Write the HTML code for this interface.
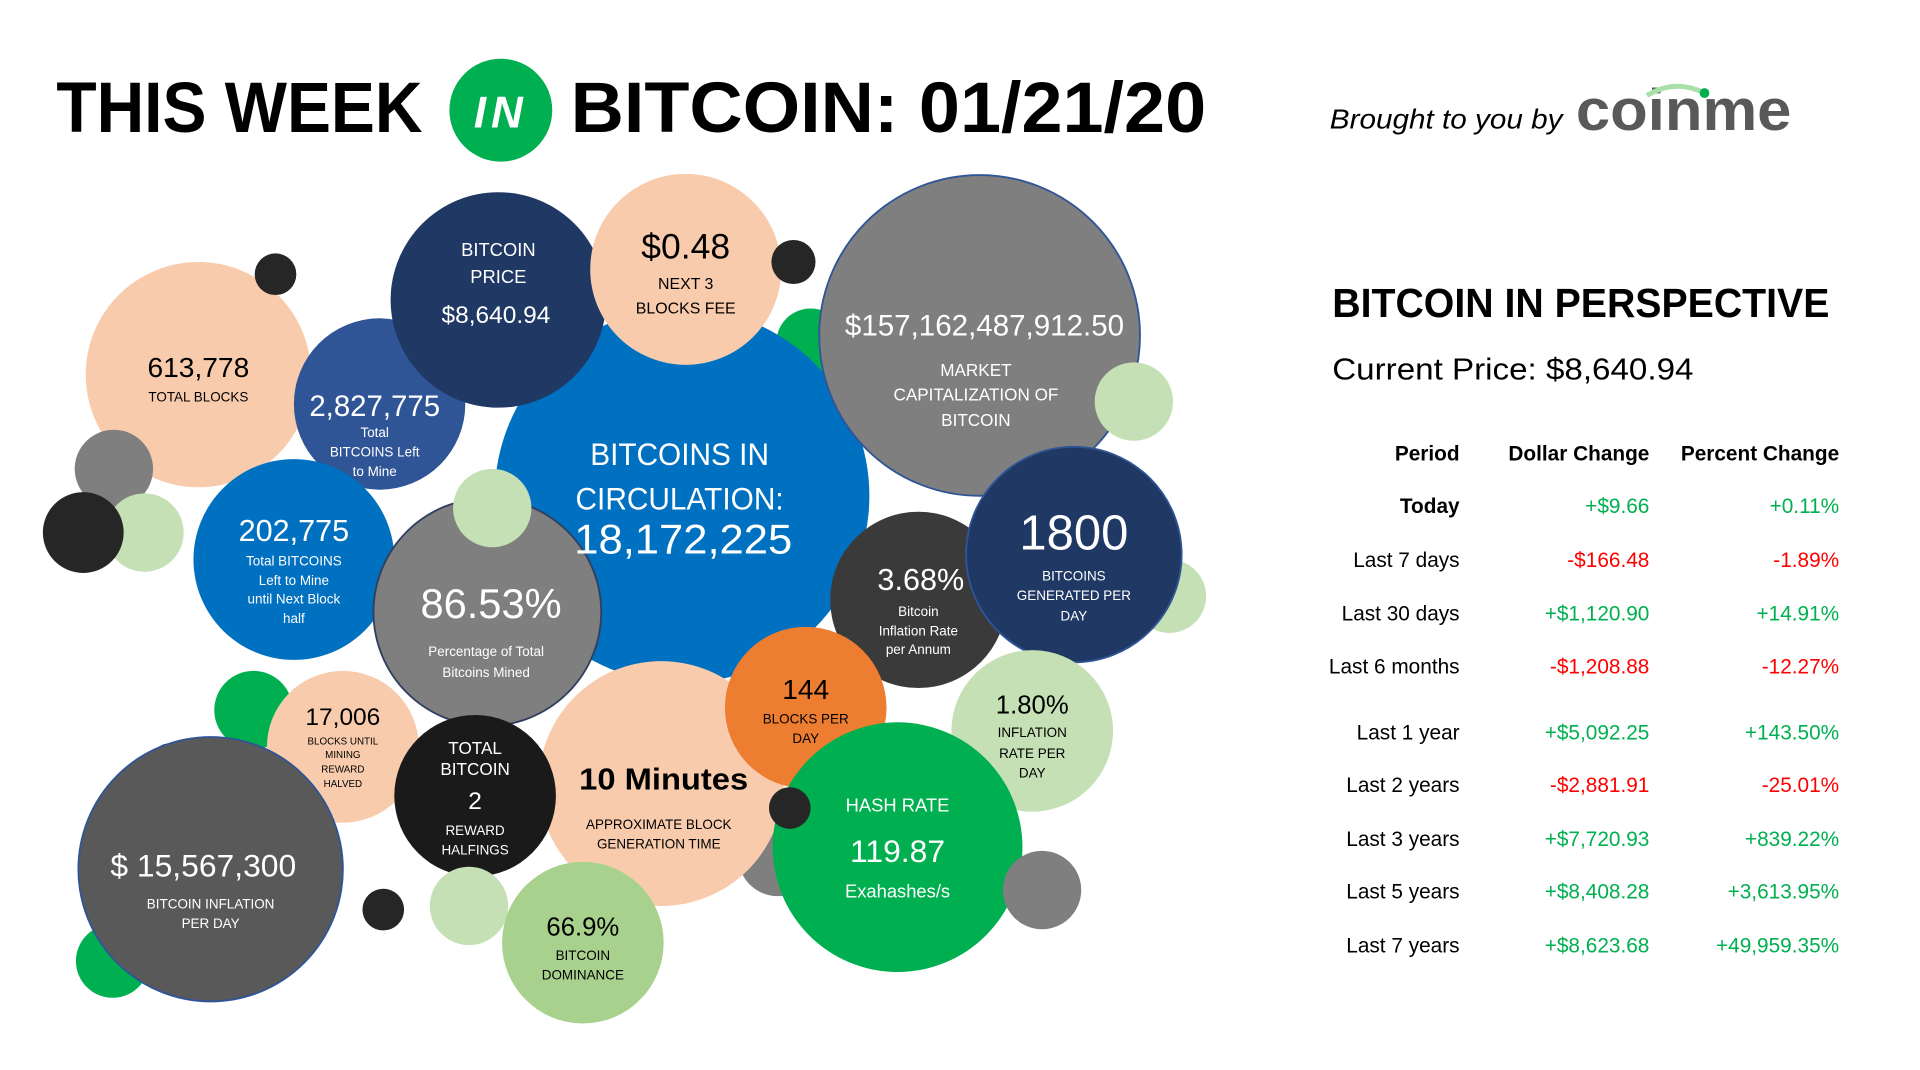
<!DOCTYPE html>
<html><head><meta charset="utf-8"><style>
html,body{margin:0;padding:0;background:#fff;width:1920px;height:1070px;overflow:hidden}
svg{display:block}
text{font-family:"Liberation Sans Narrow","Liberation Sans",sans-serif}
</style></head><body>
<svg width="1920" height="1070" viewBox="0 0 1568 874" preserveAspectRatio="none" xmlns="http://www.w3.org/2000/svg">
<rect width="1568" height="874" fill="#fff"/>
<text x="46" y="108" font-size="58" font-weight="bold" fill="#000" textLength="299" lengthAdjust="spacingAndGlyphs">THIS WEEK</text>
<circle cx="409" cy="90" r="42" fill="#00b050"/>
<text x="409" y="104" font-size="36" font-style="italic" font-weight="bold" fill="#fff" text-anchor="middle" letter-spacing="4">IN</text>
<text x="466" y="108" font-size="58" font-weight="bold" fill="#000" textLength="519" lengthAdjust="spacingAndGlyphs">BITCOIN: 01/21/20</text>
<text x="1086" y="105" font-size="23" font-style="italic" fill="#000" font-family="Liberation Sans, sans-serif" textLength="190" lengthAdjust="spacingAndGlyphs">Brought to you by</text>
<text x="1287" y="106" font-size="48" font-weight="bold" fill="#595959" font-family="Liberation Sans, sans-serif" textLength="176" lengthAdjust="spacingAndGlyphs">coinme</text>
<path d="M1345 78 Q1368 64 1392 76" stroke="#a9e0a9" stroke-width="4" fill="none"/>
<circle cx="1392" cy="76" r="4" fill="#00b050"/>

<g>
<circle cx="662" cy="280" r="28" fill="#00b050"/>
<circle cx="162" cy="306" r="92" fill="#f8cbad"/>
<circle cx="225" cy="224" r="17" fill="#262626"/>
<circle cx="310" cy="330" r="70" fill="#2f5597"/>
<circle cx="557" cy="405" r="153" fill="#0070c0"/>
<circle cx="407" cy="245" r="88" fill="#203864"/>
<circle cx="560" cy="220" r="78" fill="#f8cbad"/>
<circle cx="648" cy="214" r="18" fill="#262626"/>
<circle cx="800" cy="274" r="131" fill="#7f7f7f" stroke="#2f5597" stroke-width="1.5"/>
<circle cx="926" cy="328" r="32" fill="#c5e0b4"/>
<circle cx="93" cy="383" r="32" fill="#7f7f7f"/>
<circle cx="118" cy="435" r="32" fill="#c5e0b4"/>
<circle cx="68" cy="435" r="33" fill="#262626"/>
<circle cx="240" cy="457" r="82" fill="#0070c0"/>
<circle cx="398" cy="500" r="93" fill="#7f7f7f" stroke="#2f3f5f" stroke-width="1.5"/>
<circle cx="402" cy="415" r="32" fill="#c5e0b4"/>
<circle cx="955" cy="487" r="30" fill="#c5e0b4"/>
<circle cx="750" cy="490" r="72" fill="#3a3a3a"/>
<circle cx="877" cy="453" r="88" fill="#203864" stroke="#2f5597" stroke-width="1.5"/>
<circle cx="843" cy="597" r="66" fill="#c5e0b4"/>
<circle cx="635" cy="700" r="32" fill="#7f7f7f"/>
<circle cx="540" cy="640" r="100" fill="#f8cbad"/>
<circle cx="658" cy="578" r="66" fill="#ed7d31"/>
<circle cx="733" cy="692" r="102" fill="#00b050"/>
<circle cx="645" cy="660" r="17" fill="#262626"/>
<circle cx="851" cy="727" r="32" fill="#7f7f7f"/>
<circle cx="207" cy="580" r="32" fill="#00b050"/>
<circle cx="280" cy="610" r="62" fill="#f8cbad"/>
<circle cx="140" cy="627" r="20" fill="#262626"/>
<circle cx="92" cy="785" r="30" fill="#00b050"/>
<circle cx="172" cy="710" r="108" fill="#595959" stroke="#2f5597" stroke-width="1.5"/>
<circle cx="388" cy="650" r="66" fill="#1a1a1a"/>
<circle cx="383" cy="740" r="32" fill="#c5e0b4"/>
<circle cx="313" cy="743" r="17" fill="#262626"/>
<circle cx="476" cy="770" r="66" fill="#a9d18e"/>
</g>

<g text-anchor="middle">
<text x="162" y="308" font-size="23" fill="#000">613,778</text>
<text x="162" y="328" font-size="11" fill="#000">TOTAL BLOCKS</text>

<text x="306" y="340" font-size="24" fill="#fff">2,827,775</text>
<text x="306" y="357" font-size="11" fill="#fff">Total</text>
<text x="306" y="373" font-size="11" fill="#fff">BITCOINS Left</text>
<text x="306" y="389" font-size="11" fill="#fff">to Mine</text>

<text x="407" y="209" font-size="15" fill="#fff">BITCOIN</text>
<text x="407" y="231" font-size="15" fill="#fff">PRICE</text>
<text x="405" y="264" font-size="20" fill="#fff">$8,640.94</text>

<text x="560" y="211" font-size="29" fill="#000">$0.48</text>
<text x="560" y="236" font-size="13" fill="#000">NEXT 3</text>
<text x="560" y="256" font-size="13" fill="#000">BLOCKS FEE</text>

<text x="804" y="274" font-size="24" fill="#fff" textLength="228" lengthAdjust="spacingAndGlyphs">$157,162,487,912.50</text>
<text x="797" y="307" font-size="14" fill="#fff">MARKET</text>
<text x="797" y="327" font-size="14" fill="#fff">CAPITALIZATION OF</text>
<text x="797" y="348" font-size="14" fill="#fff">BITCOIN</text>

<text x="555" y="380" font-size="26" fill="#fff" textLength="146" lengthAdjust="spacingAndGlyphs">BITCOINS IN</text>
<text x="555" y="416" font-size="26" fill="#fff" textLength="170" lengthAdjust="spacingAndGlyphs">CIRCULATION:</text>
<text x="558" y="452" font-size="34" fill="#fff" textLength="178" lengthAdjust="spacingAndGlyphs">18,172,225</text>

<text x="240" y="442" font-size="25" fill="#fff">202,775</text>
<text x="240" y="462" font-size="11" fill="#fff">Total BITCOINS</text>
<text x="240" y="478" font-size="11" fill="#fff">Left to Mine</text>
<text x="240" y="493" font-size="11" fill="#fff">until Next Block</text>
<text x="240" y="509" font-size="11" fill="#fff">half</text>

<text x="401" y="505" font-size="34" fill="#fff">86.53%</text>
<text x="397" y="536" font-size="11" fill="#fff">Percentage of Total</text>
<text x="397" y="553" font-size="11" fill="#fff">Bitcoins Mined</text>

<text x="752" y="482" font-size="25" fill="#fff">3.68%</text>
<text x="750" y="503" font-size="11" fill="#fff">Bitcoin</text>
<text x="750" y="519" font-size="11" fill="#fff">Inflation Rate</text>
<text x="750" y="534" font-size="11" fill="#fff">per Annum</text>

<text x="877" y="449" font-size="40" fill="#fff">1800</text>
<text x="877" y="474" font-size="11" fill="#fff">BITCOINS</text>
<text x="877" y="490" font-size="11" fill="#fff">GENERATED PER</text>
<text x="877" y="507" font-size="11" fill="#fff">DAY</text>

<text x="658" y="571" font-size="23" fill="#000">144</text>
<text x="658" y="591" font-size="11" fill="#000">BLOCKS PER</text>
<text x="658" y="607" font-size="11" fill="#000">DAY</text>

<text x="843" y="583" font-size="21" fill="#000">1.80%</text>
<text x="843" y="602" font-size="11" fill="#000">INFLATION</text>
<text x="843" y="619" font-size="11" fill="#000">RATE PER</text>
<text x="843" y="635" font-size="11" fill="#000">DAY</text>

<text x="542" y="645" font-size="25" font-weight="bold" fill="#000" textLength="138" lengthAdjust="spacingAndGlyphs">10 Minutes</text>
<text x="538" y="677" font-size="11" fill="#000">APPROXIMATE BLOCK</text>
<text x="538" y="693" font-size="11" fill="#000">GENERATION TIME</text>

<text x="733" y="663" font-size="15" fill="#fff">HASH RATE</text>
<text x="733" y="704" font-size="26" fill="#fff">119.87</text>
<text x="733" y="733" font-size="15" fill="#fff">Exahashes/s</text>

<text x="280" y="592" font-size="20" fill="#000">17,006</text>
<text x="280" y="608" font-size="8" fill="#000">BLOCKS UNTIL</text>
<text x="280" y="619" font-size="8" fill="#000">MINING</text>
<text x="280" y="631" font-size="8" fill="#000">REWARD</text>
<text x="280" y="643" font-size="8" fill="#000">HALVED</text>

<text x="388" y="616" font-size="14" fill="#fff">TOTAL</text>
<text x="388" y="633" font-size="14" fill="#fff">BITCOIN</text>
<text x="388" y="661" font-size="20" fill="#fff">2</text>
<text x="388" y="682" font-size="11" fill="#fff">REWARD</text>
<text x="388" y="698" font-size="11" fill="#fff">HALFINGS</text>

<text x="166" y="716" font-size="26" fill="#fff">$ 15,567,300</text>
<text x="172" y="742" font-size="11" fill="#fff">BITCOIN INFLATION</text>
<text x="172" y="758" font-size="11" fill="#fff">PER DAY</text>

<text x="476" y="764" font-size="21" fill="#000">66.9%</text>
<text x="476" y="784" font-size="11" fill="#000">BITCOIN</text>
<text x="476" y="800" font-size="11" fill="#000">DOMINANCE</text>
</g>

<text x="1088" y="259" font-size="33" font-weight="bold" fill="#000" textLength="406" lengthAdjust="spacingAndGlyphs">BITCOIN IN PERSPECTIVE</text>
<text x="1088" y="310" font-size="25" fill="#000" textLength="295" lengthAdjust="spacingAndGlyphs">Current Price: $8,640.94</text>
<g font-size="17" text-anchor="end">
<text x="1192" y="376" font-weight="bold">Period</text>
<text x="1347" y="376" font-weight="bold">Dollar Change</text>
<text x="1502" y="376" font-weight="bold">Percent Change</text>

<text x="1192" y="419" font-weight="bold">Today</text><text x="1347" y="419" fill="#00b050">+$9.66</text><text x="1502" y="419" fill="#00b050">+0.11%</text>
<text x="1192" y="463">Last 7 days</text><text x="1347" y="463" fill="#ff0000">-$166.48</text><text x="1502" y="463" fill="#ff0000">-1.89%</text>
<text x="1192" y="507">Last 30 days</text><text x="1347" y="507" fill="#00b050">+$1,120.90</text><text x="1502" y="507" fill="#00b050">+14.91%</text>
<text x="1192" y="550">Last 6 months</text><text x="1347" y="550" fill="#ff0000">-$1,208.88</text><text x="1502" y="550" fill="#ff0000">-12.27%</text>
<text x="1192" y="604">Last 1 year</text><text x="1347" y="604" fill="#00b050">+$5,092.25</text><text x="1502" y="604" fill="#00b050">+143.50%</text>
<text x="1192" y="647">Last 2 years</text><text x="1347" y="647" fill="#ff0000">-$2,881.91</text><text x="1502" y="647" fill="#ff0000">-25.01%</text>
<text x="1192" y="691">Last 3 years</text><text x="1347" y="691" fill="#00b050">+$7,720.93</text><text x="1502" y="691" fill="#00b050">+839.22%</text>
<text x="1192" y="734">Last 5 years</text><text x="1347" y="734" fill="#00b050">+$8,408.28</text><text x="1502" y="734" fill="#00b050">+3,613.95%</text>
<text x="1192" y="778">Last 7 years</text><text x="1347" y="778" fill="#00b050">+$8,623.68</text><text x="1502" y="778" fill="#00b050">+49,959.35%</text>
</g>
</svg>
</body></html>
